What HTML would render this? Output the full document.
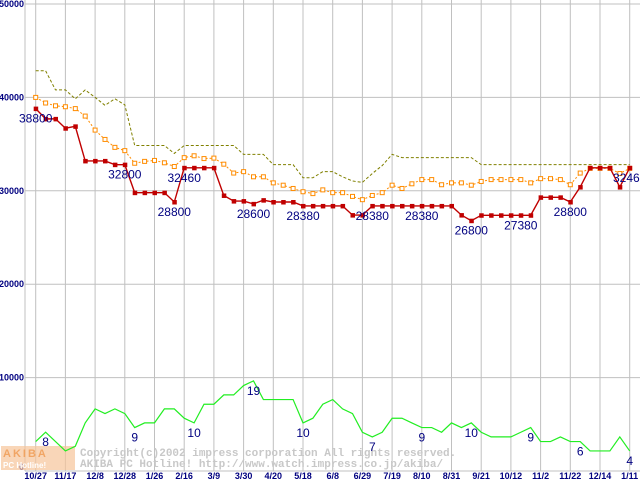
<!DOCTYPE html>
<html><head><meta charset="utf-8"><style>
html,body{margin:0;padding:0;background:#fff;}
svg{display:block;font-family:"Liberation Sans",sans-serif;}
</style></head><body>
<svg id="chart" width="640" height="480" viewBox="0 0 640 480" xmlns="http://www.w3.org/2000/svg">
<g id="grid"></g>
<g id="watermark">
  <rect x="1" y="446" width="74" height="24" fill="#f6c49a" opacity="0.7"/>
  <text x="3" y="457" font-size="11" font-weight="bold" fill="#f09a50" opacity="0.8" letter-spacing="2">AKIBA</text>
  <text x="3" y="468" font-size="8" font-weight="bold" fill="#fff">PC Hotline!</text>
  <text x="80" y="456" font-size="11" fill="#c8c8c8" font-family="Liberation Mono, monospace" font-weight="bold">Copyright(c)2002 impress corporation All rights reserved.</text>
  <text x="80" y="467" font-size="11" fill="#c8c8c8" font-family="Liberation Mono, monospace" font-weight="bold">AKIBA PC Hotline!  http://www.watch.impress.co.jp/akiba/</text>
</g>
<g id="series"></g>
<g id="labels"></g>
</svg>
<script>
const xTickLabels = ["10/27","11/17","12/8","12/28","1/26","2/16","3/9","3/30","4/20","5/18","6/8","6/29","7/19","8/10","8/31","9/21","10/12","11/2","11/22","12/14","1/11"];
const xTickIndex = [0,3,6,9,12,15,18,21,24,27,30,33,36,39,42,45,48,51,54,57,60];
const yTicks = [0,10000,20000,30000,40000,50000];
const minPrice = [38800,37700,37700,36700,36900,33200,33200,33200,32800,32800,29800,29800,29800,29800,28800,32460,32460,32460,32460,29500,28900,28900,28600,29000,28800,28800,28800,28380,28380,28380,28380,28380,27400,27400,28380,28380,28380,28380,28380,28380,28380,28380,28380,27400,26800,27380,27380,27380,27380,27380,27380,29300,29300,29300,28800,30400,32460,32460,32460,30400,32460];
const avgPrice = [40000,39400,39100,39000,38800,38000,36500,35500,34650,34300,32950,33150,33250,33000,32600,33550,33750,33450,33500,32850,31900,32050,31500,31500,30850,30600,30250,29900,29700,30100,29800,29800,29400,29050,29500,29800,30600,30250,30750,31200,31200,30650,30850,30850,30600,31000,31200,31200,31200,31200,30850,31300,31300,31200,30650,31900,32400,32400,32400,31850,32400];
const maxPrice = [42850,42850,40800,40800,39850,40800,40000,39150,39850,39200,34850,34850,34850,34850,34000,34850,34850,34850,34850,34850,34850,33900,33900,33900,32800,32800,32800,31400,31400,32050,32050,31500,31050,30900,31850,32700,33900,33550,33550,33550,33550,33550,33550,33550,33550,32800,32800,32800,32800,32800,32800,32800,32800,32800,32800,32800,32800,32800,32800,32800,32800];
const shopCount = [6,8,6,4,5,10,13,12,13,12,9,10,10,13,13,11,10,14,14,16,16,18,19,15,15,15,15,10,11,14,15,13,12,8,7,8,11,11,10,9,9,8,10,9,10,8,7,7,7,8,9,6,6,7,6,6,4,4,4,7,4];
const priceLabelIdx = [0,9,14,15,22,27,34,39,44,49,54,60];
const priceLabelText = ["38800","32800","28800","32460","28600","28380","28380","28380","26800","27380","28800","32460"];
const countLabelIdx = [1,10,16,22,27,34,39,44,50,55,60];

const NS="http://www.w3.org/2000/svg";
const X=i=>35.7+i*9.9;
const Y=v=>471-v*0.00934;
const countVal=c=>c*500+150;
function mk(tag,attrs,parent){const e=document.createElementNS(NS,tag);for(const k in attrs)e.setAttribute(k,attrs[k]);parent.appendChild(e);return e;}
const grid=document.getElementById('grid'),ser=document.getElementById('series'),lab=document.getElementById('labels');

yTicks.forEach(v=>{
  const l=mk('line',{x1:25,x2:640,y1:Y(v),y2:Y(v),stroke:'#c0c0c0','stroke-width':1},grid);
  
  
  const t=mk('text',{x:24,y:Y(v)+(v===0?-1:3),'text-anchor':'end','font-size':9,'font-weight':'bold',fill:'#000080'},grid);
  t.textContent=String(v);
  
  
});
const ax=mk('line',{x1:25,x2:25,y1:0,y2:471,stroke:'#c0c0c0','stroke-width':1},grid);


xTickIndex.forEach((ix,k)=>{
  const l=mk('line',{x1:X(ix),x2:X(ix),y1:0,y2:471,stroke:'#c0c0c0','stroke-width':1},grid);
  
  
  const t=mk('text',{x:X(ix),y:479,'text-anchor':'middle','font-size':9,'font-weight':'bold',fill:'#000080'},grid);
  t.textContent=xTickLabels[k];
  
  
});

function pts(arr,f){return arr.map((v,i)=>X(i)+','+f(v)).join(' ');}
const gl=mk('polyline',{points:pts(shopCount,c=>Y(countVal(c))),fill:'none',stroke:'#22ee22','stroke-width':1.2},ser);


const ol=mk('polyline',{points:pts(maxPrice,Y),fill:'none',stroke:'#808000','stroke-width':1,'stroke-dasharray':'3,2'},ser);


const al=mk('polyline',{points:pts(avgPrice,Y),fill:'none',stroke:'#ff8c00','stroke-width':1,'stroke-dasharray':'2,2'},ser);


avgPrice.forEach((v,i)=>{
  const r=mk('rect',{x:X(i)-2,y:Y(v)-2,width:4,height:4,fill:'#fff',stroke:'#ff8c00','stroke-width':1},ser);
  
  
});
const rl=mk('polyline',{points:pts(minPrice,Y),fill:'none',stroke:'#c00000','stroke-width':1.4},ser);


minPrice.forEach((v,i)=>{
  const r=mk('rect',{x:X(i)-2,y:Y(v)-2,width:4.5,height:4.5,fill:'#c00000'},ser);
  
  
});
priceLabelIdx.forEach((ix,k)=>{
  const t=mk('text',{x:X(ix),y:Y(minPrice[ix])+14,'text-anchor':'middle','font-size':12,fill:'#000080'},lab);
  t.textContent=priceLabelText[k];
  
  
});
countLabelIdx.forEach(ix=>{
  const t=mk('text',{x:X(ix),y:Y(countVal(shopCount[ix]))+14,'text-anchor':'middle','font-size':12,fill:'#000080'},lab);
  t.textContent=String(shopCount[ix]);
  
  
});
</script>
</body></html>
